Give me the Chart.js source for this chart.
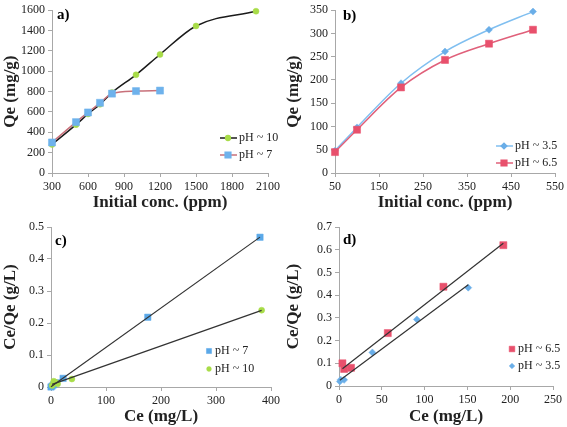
<!DOCTYPE html>
<html>
<head>
<meta charset="utf-8">
<script src="https://cdn.jsdelivr.net/npm/chart.js@4.4.1/dist/chart.umd.min.js"></script>
<style>
  body { margin: 0; background: #fff; }
  #fig { position: relative; width: 567px; height: 427px; }
  .painel { position: absolute; }
</style>
</head>
<body>
<div id="fig">
  <div class="painel" style="left:0;top:0;width:283px;height:213px"><canvas id="grafA"></canvas></div>
  <div class="painel" style="left:283px;top:0;width:284px;height:213px"><canvas id="grafB"></canvas></div>
  <div class="painel" style="left:0;top:213px;width:283px;height:214px"><canvas id="grafC"></canvas></div>
  <div class="painel" style="left:283px;top:213px;width:284px;height:214px"><canvas id="grafD"></canvas></div>
</div>
<script>
// a) Qe vs initial conc.
const aConc10 = [300, 500, 600, 700, 800, 1000, 1200, 1500, 2000];
const aQe10 = [280, 475, 580, 675, 790, 965, 1165, 1445, 1590];
const aConc7 = [300, 500, 600, 700, 800, 1000, 1200];
const aQe7 = [300, 500, 595, 690, 780, 805, 810];

// b) Qe vs initial conc.
const bConc = [50, 100, 200, 300, 400, 500];
const bQe35 = [48, 98, 193, 261, 308, 347];
const bQe65 = [45, 93, 184, 243, 278, 308];

// c) Ce/Qe vs Ce
const cCe7 = [0, 2, 5, 10, 22, 176, 380];
const cRatio7 = [0, 0.003, 0.007, 0.013, 0.027, 0.218, 0.468];
const cCe10 = [2, 5, 8, 12, 38, 383];
const cRatio10 = [0.005, 0.018, 0.015, 0.01, 0.025, 0.24];

// d) Ce/Qe vs Ce
const dCe65 = [4, 6, 14, 57, 122, 192];
const dRatio65 = [0.1, 0.075, 0.08, 0.233, 0.437, 0.62];
const dCe35 = [1, 2, 6, 39, 91, 151];
const dRatio35 = [0.02, 0.028, 0.027, 0.148, 0.293, 0.433];

const serif = '"Liberation Serif", "Times New Roman", serif';
Chart.defaults.font.family = serif;
Chart.defaults.font.size = 12;
Chart.defaults.color = "#222";

const corEixo = "#a8a8a8";

function pontos(xs, ys) {
  return xs.map((x, i) => ({ x: x, y: ys[i] }));
}

// linha de tendencia (minimos quadrados), como no Excel
function tendencia(xs, ys) {
  const n = xs.length;
  const mx = xs.reduce((s, v) => s + v, 0) / n;
  const my = ys.reduce((s, v) => s + v, 0) / n;
  let sxy = 0, sxx = 0;
  for (let i = 0; i < n; i++) {
    sxy += (xs[i] - mx) * (ys[i] - my);
    sxx += (xs[i] - mx) * (xs[i] - mx);
  }
  const b = sxy / sxx;
  const a = my - b * mx;
  const x0 = Math.min(...xs), x1 = Math.max(...xs);
  return [{ x: x0, y: a + b * x0 }, { x: x1, y: a + b * x1 }];
}

function fmt(v) {
  return String(Number(v.toFixed(3)));
}

// legenda e letra do painel
const decoracao = {
  id: "decoracao",
  afterDatasetsDraw(chart, args, o) {
    const ctx = chart.ctx;
    ctx.save();
    ctx.fillStyle = "#000";
    ctx.textBaseline = "middle";
    ctx.font = "bold 15px " + serif;
    ctx.fillText(o.letra, o.letraX, o.letraY);
    ctx.font = "12px " + serif;
    o.itens.forEach((it, i) => {
      const ds = chart.data.datasets[it.ds];
      const y = o.y + i * o.gap;
      let x = o.x;
      if (it.linha) {
        ctx.strokeStyle = ds.borderColor;
        ctx.lineWidth = 1.5;
        ctx.beginPath();
        ctx.moveTo(x, y);
        ctx.lineTo(x + 17, y);
        ctx.stroke();
        ctx.fillStyle = ds.pointBackgroundColor;
        ctx.strokeStyle = ds.pointBorderColor;
        Chart.helpers.drawPoint(ctx, { pointStyle: ds.pointStyle, radius: ds.pointRadius * 0.8, rotation: 0, borderWidth: 0.5 }, x + 8, y);
        x += 19;
      } else {
        ctx.fillStyle = ds.pointBackgroundColor;
        ctx.strokeStyle = ds.pointBorderColor;
        Chart.helpers.drawPoint(ctx, { pointStyle: ds.pointStyle, radius: ds.pointRadius * 0.8, rotation: 0, borderWidth: 0.5 }, x + 3, y);
        x += 9;
      }
      ctx.fillStyle = "#222";
      ctx.fillText(ds.label, x, y);
    });
    ctx.restore();
  }
};

function eixos(xMin, xMax, xStep, xTitulo, yMax, yStep, yTitulo, larguraY, alturaX) {
  const fonteTick = { family: serif, size: 12 };
  const fonteTitulo = { family: serif, size: 17, weight: "bold" };
  const base = {
    type: "linear",
    border: { color: corEixo, width: 1 },
    grid: { drawOnChartArea: false, drawTicks: true, tickLength: 4, color: corEixo }
  };
  return {
    x: {
      ...base,
      min: xMin, max: xMax,
      ticks: { callback: v => fmt(v), padding: 3, color: "#222", font: fonteTick, stepSize: xStep, maxRotation: 0, autoSkip: false },
      title: { display: true, text: xTitulo, color: "#222", font: fonteTitulo, padding: { top: 2, bottom: 0 } },
      afterFit: s => { s.height = alturaX; }
    },
    y: {
      ...base,
      min: 0, max: yMax,
      ticks: { callback: v => fmt(v), padding: 3, color: "#222", font: fonteTick, stepSize: yStep },
      title: { display: true, text: yTitulo, color: "#222", font: fonteTitulo, padding: { top: 0, bottom: 2 } },
      afterFit: s => { s.width = larguraY; }
    }
  };
}

function opcoes(escalas, pad, deco) {
  return {
    responsive: true,
    maintainAspectRatio: false,
    animation: false,
    layout: { autoPadding: false, padding: pad },
    plugins: { legend: { display: false }, tooltip: { enabled: false }, decoracao: deco },
    scales: escalas
  };
}

function serieLinha(label, xs, ys, corLinha, corPonto, estilo, raio, ordem) {
  return {
    label: label,
    data: pontos(xs, ys),
    showLine: true,
    borderColor: corLinha,
    borderWidth: 1.5,
    cubicInterpolationMode: "monotone",
    pointStyle: estilo,
    pointRadius: raio,
    pointBackgroundColor: corPonto,
    pointBorderColor: corPonto,
    pointBorderWidth: 0.5,
    clip: false,
    order: ordem
  };
}

function serieDispersao(label, xs, ys, cor, estilo, raio, ordem) {
  return {
    label: label,
    data: pontos(xs, ys),
    showLine: false,
    pointStyle: estilo,
    pointRadius: raio,
    pointBackgroundColor: cor,
    pointBorderColor: cor,
    pointBorderWidth: 0.5,
    clip: false,
    order: ordem
  };
}

function serieTendencia(xs, ys) {
  return {
    label: "",
    data: tendencia(xs, ys),
    showLine: true,
    borderColor: "#333",
    borderWidth: 1.2,
    pointRadius: 0,
    clip: false,
    order: 0
  };
}

// a)
new Chart(document.getElementById("grafA"), {
  type: "scatter",
  data: {
    datasets: [
      serieLinha("pH ~ 10", aConc10, aQe10, "#1a1a1a", "#a8dc48", "circle", 3, 2),
      serieLinha("pH ~ 7", aConc7, aQe7, "#c8707a", "#6eb2ec", "rect", 5, 1)
    ]
  },
  options: opcoes(
    eixos(300, 2100, 300, "Initial conc. (ppm)", 1600, 200, "Qe (mg/g)", 52, 40),
    { left: 0, right: 3, top: 5, bottom: 0 },
    { letra: "a)", letraX: 57, letraY: 15, x: 220, y: 138, gap: 17,
      itens: [{ ds: 0, linha: true }, { ds: 1, linha: true }] }
  ),
  plugins: [decoracao]
});

// b)
new Chart(document.getElementById("grafB"), {
  type: "scatter",
  data: {
    datasets: [
      serieLinha("pH ~ 3.5", bConc, bQe35, "#80bff0", "#6aaee8", "rectRot", 3.5, 2),
      serieLinha("pH ~ 6.5", bConc, bQe65, "#e0607a", "#e8506c", "rect", 5, 1)
    ]
  },
  options: opcoes(
    eixos(50, 550, 100, "Initial conc. (ppm)", 350, 50, "Qe (mg/g)", 52, 40),
    { left: 0, right: 11, top: 7, bottom: 0 },
    { letra: "b)", letraX: 60, letraY: 16, x: 213, y: 146, gap: 17,
      itens: [{ ds: 0, linha: true }, { ds: 1, linha: true }] }
  ),
  plugins: [decoracao]
});

// c)
new Chart(document.getElementById("grafC"), {
  type: "scatter",
  data: {
    datasets: [
      serieDispersao("pH ~ 7", cCe7, cRatio7, "#5aa8e8", "rect", 4.5, 2),
      serieDispersao("pH ~ 10", cCe10, cRatio10, "#a8dc48", "circle", 3, 1),
      serieTendencia(cCe7, cRatio7),
      serieTendencia(cCe10, cRatio10)
    ]
  },
  options: opcoes(
    eixos(0, 400, 100, "Ce (mg/L)", 0.5, 0.1, "Ce/Qe (g/L)", 51, 40),
    { left: 0, right: 10, top: 14, bottom: 0 },
    { letra: "c)", letraX: 55, letraY: 28, x: 206, y: 138, gap: 18,
      itens: [{ ds: 0 }, { ds: 1 }] }
  ),
  plugins: [decoracao]
});

// d)
new Chart(document.getElementById("grafD"), {
  type: "scatter",
  data: {
    datasets: [
      serieDispersao("pH ~ 6.5", dCe65, dRatio65, "#e8506c", "rect", 5, 2),
      serieDispersao("pH ~ 3.5", dCe35, dRatio35, "#6aaee8", "rectRot", 3.5, 1),
      serieTendencia(dCe65, dRatio65),
      serieTendencia(dCe35, dRatio35)
    ]
  },
  options: opcoes(
    eixos(0, 250, 50, "Ce (mg/L)", 0.7, 0.1, "Ce/Qe (g/L)", 56, 41),
    { left: 0, right: 14, top: 14, bottom: 0 },
    { letra: "d)", letraX: 60, letraY: 27, x: 226, y: 136, gap: 17,
      itens: [{ ds: 0 }, { ds: 1 }] }
  ),
  plugins: [decoracao]
});
</script>
</body>
</html>
